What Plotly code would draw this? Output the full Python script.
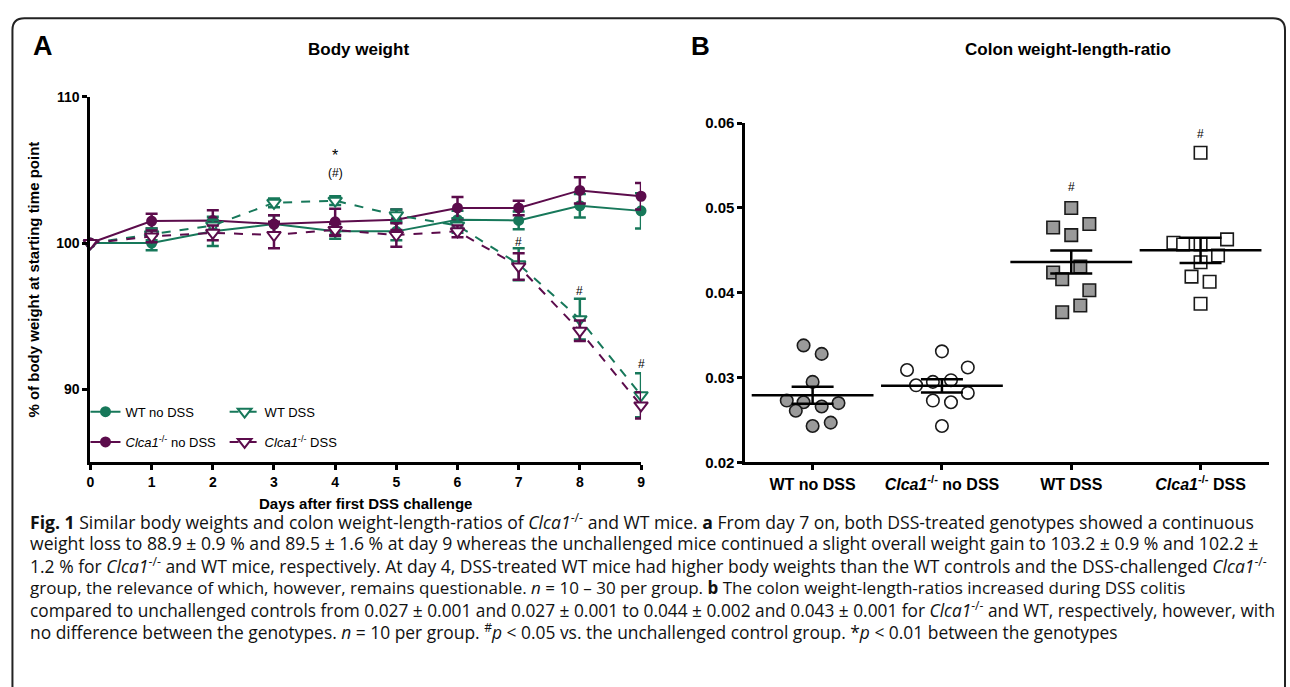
import numpy as np
import plotly.graph_objects as go

W, H = 1290, 687

# ---------------- Panel A data: body weight (% of start) ----------------
days = [0, 1, 2, 3, 4, 5, 6, 7, 8, 9]
wt_no = [100.0, 100.0, 100.8, 101.3, 100.8, 100.8, 101.6, 101.55, 102.55, 102.2]
wt_no_sem = [0.0, 0.5, 1.0, 0.6, 0.5, 0.6, 0.6, 0.6, 0.8, 1.2]
ko_no = [100.0, 101.5, 101.55, 101.3, 101.45, 101.6, 102.4, 102.4, 103.6, 103.2]
ko_no_sem = [0.0, 0.5, 0.7, 0.6, 0.9, 0.7, 0.75, 0.5, 0.9, 0.9]
wt_dss = [100.0, 100.6, 101.2, 102.75, 102.9, 101.9, 101.2, 98.55, 94.8, 89.6]
wt_dss_sem = [0.0, 0.4, 0.4, 0.3, 0.3, 0.4, 0.5, 1.1, 1.4, 1.5]
ko_dss = [100.0, 100.45, 100.7, 100.55, 100.9, 100.55, 100.8, 98.4, 94.0, 88.9]
ko_dss_sem = [0.0, 0.4, 0.5, 0.9, 0.4, 0.8, 0.4, 0.9, 0.7, 0.9]

a_ytick = [90, 100, 110]
a_sig_days = [7, 8, 9]
a_sig_y = [100.1, 96.7, 91.7]

# ---------------- Panel B data: colon weight-length ratio ----------------
b_labels = ["WT no DSS", "<i>Clca1</i><sup>-/-</sup> no DSS", "WT DSS", "<i>Clca1</i><sup>-/-</sup> DSS"]
wt_no_ratio = [0.0338, 0.0328, 0.0295, 0.0273, 0.0271, 0.0266, 0.0270, 0.0261, 0.0243, 0.0247]
ko_no_ratio = [0.0331, 0.0309, 0.0312, 0.0291, 0.0295, 0.0297, 0.0282, 0.0273, 0.0271, 0.0243]
wt_dss_ratio = [0.0500, 0.0477, 0.0481, 0.0468, 0.0431, 0.0424, 0.0416, 0.0403, 0.0385, 0.0377]
ko_dss_ratio = [0.0565, 0.0459, 0.0457, 0.0457, 0.0463, 0.0444, 0.0436, 0.0419, 0.0413, 0.0387]
b_ytick = [0.02, 0.03, 0.04, 0.05, 0.06]

# horizontal spread of dots within each group (category units)
wt_no_spread = [-0.07, 0.07, 0.0, -0.2, -0.07, 0.07, 0.2, -0.13, 0.0, 0.14]
ko_no_spread = [0.0, -0.27, 0.2, -0.2, -0.07, 0.07, 0.2, -0.07, 0.07, 0.0]
wt_dss_spread = [0.0, -0.14, 0.14, 0.0, 0.07, -0.14, -0.07, 0.14, 0.07, -0.07]
ko_dss_spread = [0.0, -0.21, -0.135, 0.0, 0.205, 0.135, 0.0, -0.07, 0.07, 0.0]

GREEN = "#17785a"
PURPLE = "#5c0c4c"
GRAY = "#9a9a9a"
ARIAL = "Liberation Sans"
CAP = "Open Sans"


def px(x):
    return x / W


def py(y):
    return 1 - y / H


fig = go.Figure()

# ---- Panel A traces ----
def series(y, sem, color, symbol, dash, name, legend):
    return go.Scatter(
        x=days, y=y, name=name, legend=legend,
        mode="lines+markers",
        line=dict(color=color, width=2, dash=dash),
        marker=dict(symbol=symbol, size=9 if symbol == "circle" else 12,
                    color=color if symbol == "circle" else "white",
                    line=dict(color=color, width=2)),
        error_y=dict(type="data", array=sem, color=color, thickness=2.5, width=6),
        cliponaxis=False, xaxis="x", yaxis="y",
    )

fig.add_trace(series(wt_no, wt_no_sem, GREEN, "circle", "solid", "WT no DSS", "legend"))
fig.add_trace(series(ko_no, ko_no_sem, PURPLE, "circle", "solid", "<i>Clca1</i><sup>-/-</sup> no DSS", "legend2"))
fig.add_trace(series(wt_dss, wt_dss_sem, GREEN, "triangle-down", "dash", "WT DSS", "legend3"))
fig.add_trace(series(ko_dss, ko_dss_sem, PURPLE, "triangle-down", "dash", "<i>Clca1</i><sup>-/-</sup> DSS", "legend4"))

# ---- Panel B traces ----
b_sets = [
    (wt_no_ratio, wt_no_spread, "circle", GRAY),
    (ko_no_ratio, ko_no_spread, "circle", "white"),
    (wt_dss_ratio, wt_dss_spread, "square", GRAY),
    (ko_dss_ratio, ko_dss_spread, "square", "white"),
]
for i, (vals, spread, sym, fill) in enumerate(b_sets):
    fig.add_trace(go.Scatter(
        x=[i + s for s in spread], y=vals, mode="markers", showlegend=False,
        marker=dict(symbol=sym, size=12.5, color=fill, line=dict(color="#1a1a1a", width=1.6)),
        xaxis="x2", yaxis="y2", cliponaxis=False,
    ))
    arr = np.array(vals)
    mean = arr.mean()
    sem = arr.std(ddof=1) / np.sqrt(len(arr))
    fig.add_trace(go.Scatter(
        x=[i], y=[mean], mode="markers", showlegend=False,
        marker=dict(symbol="line-ew", size=87, color="black", line=dict(color="black", width=2.5)),
        error_y=dict(type="data", array=[sem], color="black", thickness=2.5, width=21),
        xaxis="x2", yaxis="y2", cliponaxis=False,
    ))

axis_common = dict(showline=True, linewidth=3, linecolor="black", ticks="outside",
                   tickwidth=2.5, ticklen=5, tickcolor="black", showgrid=False, zeroline=False)

fig.update_layout(
    width=W, height=H,
    margin=dict(l=0, r=0, t=0, b=0),
    paper_bgcolor="white", plot_bgcolor="rgba(0,0,0,0)",
    font=dict(family=ARIAL, color="black"),
    xaxis=dict(domain=[px(87), px(641)], range=[0, 9], tickvals=days, anchor="y",
               tickfont=dict(family=ARIAL, size=14, weight="bold"),
               title=dict(text="<b>Days after first DSS challenge</b>", font=dict(size=15), standoff=10),
               **axis_common),
    yaxis=dict(domain=[py(465), py(90)], range=[85, 110], tickvals=a_ytick, anchor="x",
               tickfont=dict(family=ARIAL, size=14, weight="bold"),
               title=dict(text="<b>% of body weight at starting time point</b>", font=dict(size=15), standoff=14),
               **axis_common),
    xaxis2=dict(domain=[px(746), px(1273)], range=[-0.52, 3.53], tickvals=[0, 1, 2, 3],
                ticktext=b_labels, anchor="y2",
                tickfont=dict(family=ARIAL, size=16, weight="bold"), **axis_common),
    yaxis2=dict(domain=[py(465), py(117)], range=[0.02, 0.06], tickvals=b_ytick,
                tickformat=".2f", anchor="x2",
                tickfont=dict(family=ARIAL, size=15, weight="bold"), **axis_common),
)

leg_common = dict(font=dict(family=ARIAL, size=13), bgcolor="rgba(0,0,0,0)",
                  xanchor="left", yanchor="middle", itemwidth=30)
fig.update_layout(
    legend=dict(x=px(82), y=py(413), **leg_common),
    legend2=dict(x=px(82), y=py(444), **leg_common),
    legend3=dict(x=px(222), y=py(413), **leg_common),
    legend4=dict(x=px(222), y=py(444), **leg_common),
)

# significance marks panel A
for d, yv in zip(a_sig_days, a_sig_y):
    fig.add_annotation(x=d, y=yv, xref="x", yref="y", text="#", showarrow=False,
                       font=dict(size=12, family=ARIAL))
fig.add_annotation(x=4, y=106.0, xref="x", yref="y", text="*", showarrow=False,
                   font=dict(size=16, family=ARIAL))
fig.add_annotation(x=4, y=104.8, xref="x", yref="y", text="(#)", showarrow=False,
                   font=dict(size=12, family=ARIAL))
# significance marks panel B
fig.add_annotation(x=2, y=0.0525, xref="x2", yref="y2", text="#", showarrow=False,
                   font=dict(size=12, family=ARIAL))
fig.add_annotation(x=3, y=0.0587, xref="x2", yref="y2", text="#", showarrow=False,
                   font=dict(size=12, family=ARIAL))

# panel letters and titles
fig.add_annotation(x=px(27), y=py(38), xref="paper", yref="paper", text="<b>A</b>",
                   showarrow=False, xanchor="left", yanchor="middle", font=dict(size=27))
fig.add_annotation(x=px(689), y=py(38), xref="paper", yref="paper", text="<b>B</b>",
                   showarrow=False, xanchor="left", yanchor="middle", font=dict(size=26))
fig.add_annotation(x=px(357), y=py(42), xref="paper", yref="paper", text="<b>Body weight</b>",
                   showarrow=False, xanchor="center", yanchor="middle", font=dict(size=17))
fig.add_annotation(x=px(1071), y=py(42), xref="paper", yref="paper",
                   text="<b>Colon weight-length-ratio</b>",
                   showarrow=False, xanchor="center", yanchor="middle", font=dict(size=17))

# caption
KO = "<i>Clca1</i><sup>-/-</sup>"
caption = [
    "<b>Fig. 1</b> Similar body weights and colon weight-length-ratios of " + KO + " and WT mice. <b>a</b> From day 7 on, both DSS-treated genotypes showed a continuous",
    "weight loss to 88.9 ± 0.9 % and 89.5 ± 1.6 % at day 9 whereas the unchallenged mice continued a slight overall weight gain to 103.2 ± 0.9 % and 102.2 ±",
    "1.2 % for " + KO + " and WT mice, respectively. At day 4, DSS-treated WT mice had higher body weights than the WT controls and the DSS-challenged " + KO,
    "group, the relevance of which, however, remains questionable. <i>n</i> = 10 – 30 per group. <b>b</b> The colon weight-length-ratios increased during DSS colitis",
    "compared to unchallenged controls from 0.027 ± 0.001 and 0.027 ± 0.001 to 0.044 ± 0.002 and 0.043 ± 0.001 for " + KO + " and WT, respectively, however, with",
    "no difference between the genotypes. <i>n</i> = 10 per group. <sup>#</sup><i>p</i> < 0.05 vs. the unchallenged control group. *<i>p</i> < 0.01 between the genotypes",
]
cap_y = [525, 548, 571, 593, 616, 638]
cap_size = [17.6, 17.6, 17.5, 17.0, 17.3, 17.4]
for t, yy, fs in zip(caption, cap_y, cap_size):
    fig.add_annotation(x=px(24), y=py(yy), xref="paper", yref="paper", text=t,
                       showarrow=False, xanchor="left", yanchor="middle",
                       font=dict(family=CAP, size=fs, color="#111111"))

# rounded frame around the figure
x0, x1, y0, r = 8.5, 1289, 9.5, 12
path = (f"M {px(x0)},{py(H + 20)} L {px(x0)},{py(y0 + r)} Q {px(x0)},{py(y0)} {px(x0 + r)},{py(y0)} "
        f"L {px(x1 - r)},{py(y0)} Q {px(x1)},{py(y0)} {px(x1)},{py(y0 + r)} L {px(x1)},{py(H + 20)}")
fig.add_shape(type="path", path=path, xref="paper", yref="paper",
              line=dict(color="#222222", width=2))

fig.write_html("out.html", config={"displayModeBar": False},
               post_script="document.body.style.margin='0';document.body.style.overflow='hidden';")
